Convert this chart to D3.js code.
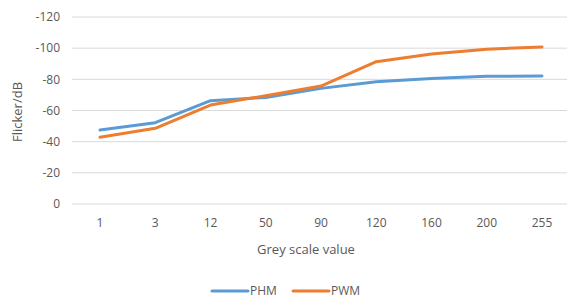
<!DOCTYPE html>
<html><head><meta charset="utf-8">
<script src="https://cdn.jsdelivr.net/npm/d3@7"></script>
<style>body{margin:0;background:#fff}svg{display:block}text{font-family:"Open Sans",sans-serif;fill:#595959}</style>
</head><body><svg id="c" width="567" height="299"></svg>
<script>
const categories = ["1","3","12","50","90","120","160","200","255"];
const phm = [-47.5,-52.2,-66.3,-68.4,-74.2,-78.5,-80.6,-81.9,-82.1];
const pwm = [-42.8,-48.6,-63.5,-69.5,-75.7,-91.3,-96.3,-99.3,-100.8];
const yTicks = [0,-20,-40,-60,-80,-100,-120];
const seriesNames = ["PHM","PWM"];
const colors = ["#5B9BD5","#ED7D31"];

const svg = d3.select("#c");
const x = d3.scalePoint().domain(categories).range([72.4,569.6]).padding(0.5);
const y = d3.scaleLinear().domain([0,-120]).range([204,17]);

const g = svg.append("g");
g.selectAll("line.grid").data(yTicks).join("line")
  .attr("x1",72).attr("x2",567).attr("y1",d=>y(d)).attr("y2",d=>y(d))
  .attr("stroke","#D9D9D9").attr("stroke-width",1);

g.selectAll("text.yt").data(yTicks).join("text")
  .attr("x",60).attr("y",d=>y(d)).attr("dy","0.35em").attr("text-anchor","end")
  .attr("font-size","12px").text(d=>d);

g.selectAll("text.xt").data(categories).join("text")
  .attr("x",d=>x(d)).attr("y",223).attr("dy","0.35em").attr("text-anchor","middle")
  .attr("font-size","12px").text(d=>d);

svg.append("text").attr("x",306).attr("y",249).attr("dy","0.35em").attr("text-anchor","middle")
  .attr("font-size","13px").text("Grey scale value");
svg.append("text").attr("transform","translate(17,112) rotate(-90)").attr("dy","0.35em")
  .attr("text-anchor","middle").attr("font-size","13px").text("Flicker/dB");

const line = d3.line().x((d,i)=>x(categories[i])).y(d=>y(d));
[phm,pwm].forEach((s,i)=>{
  svg.append("path").datum(s).attr("d",line).attr("fill","none")
    .attr("stroke",colors[i]).attr("stroke-width",3).attr("stroke-linejoin","round").attr("stroke-linecap","round");
});

const legX = [212,293];
seriesNames.forEach((n,i)=>{
  svg.append("line").attr("x1",legX[i]).attr("x2",legX[i]+36).attr("y1",291).attr("y2",291)
    .attr("stroke",colors[i]).attr("stroke-width",3).attr("stroke-linecap","round");
  svg.append("text").attr("x",legX[i]+38).attr("y",291).attr("dy","0.35em").attr("font-size","12px").text(n);
});
</script></body></html>
